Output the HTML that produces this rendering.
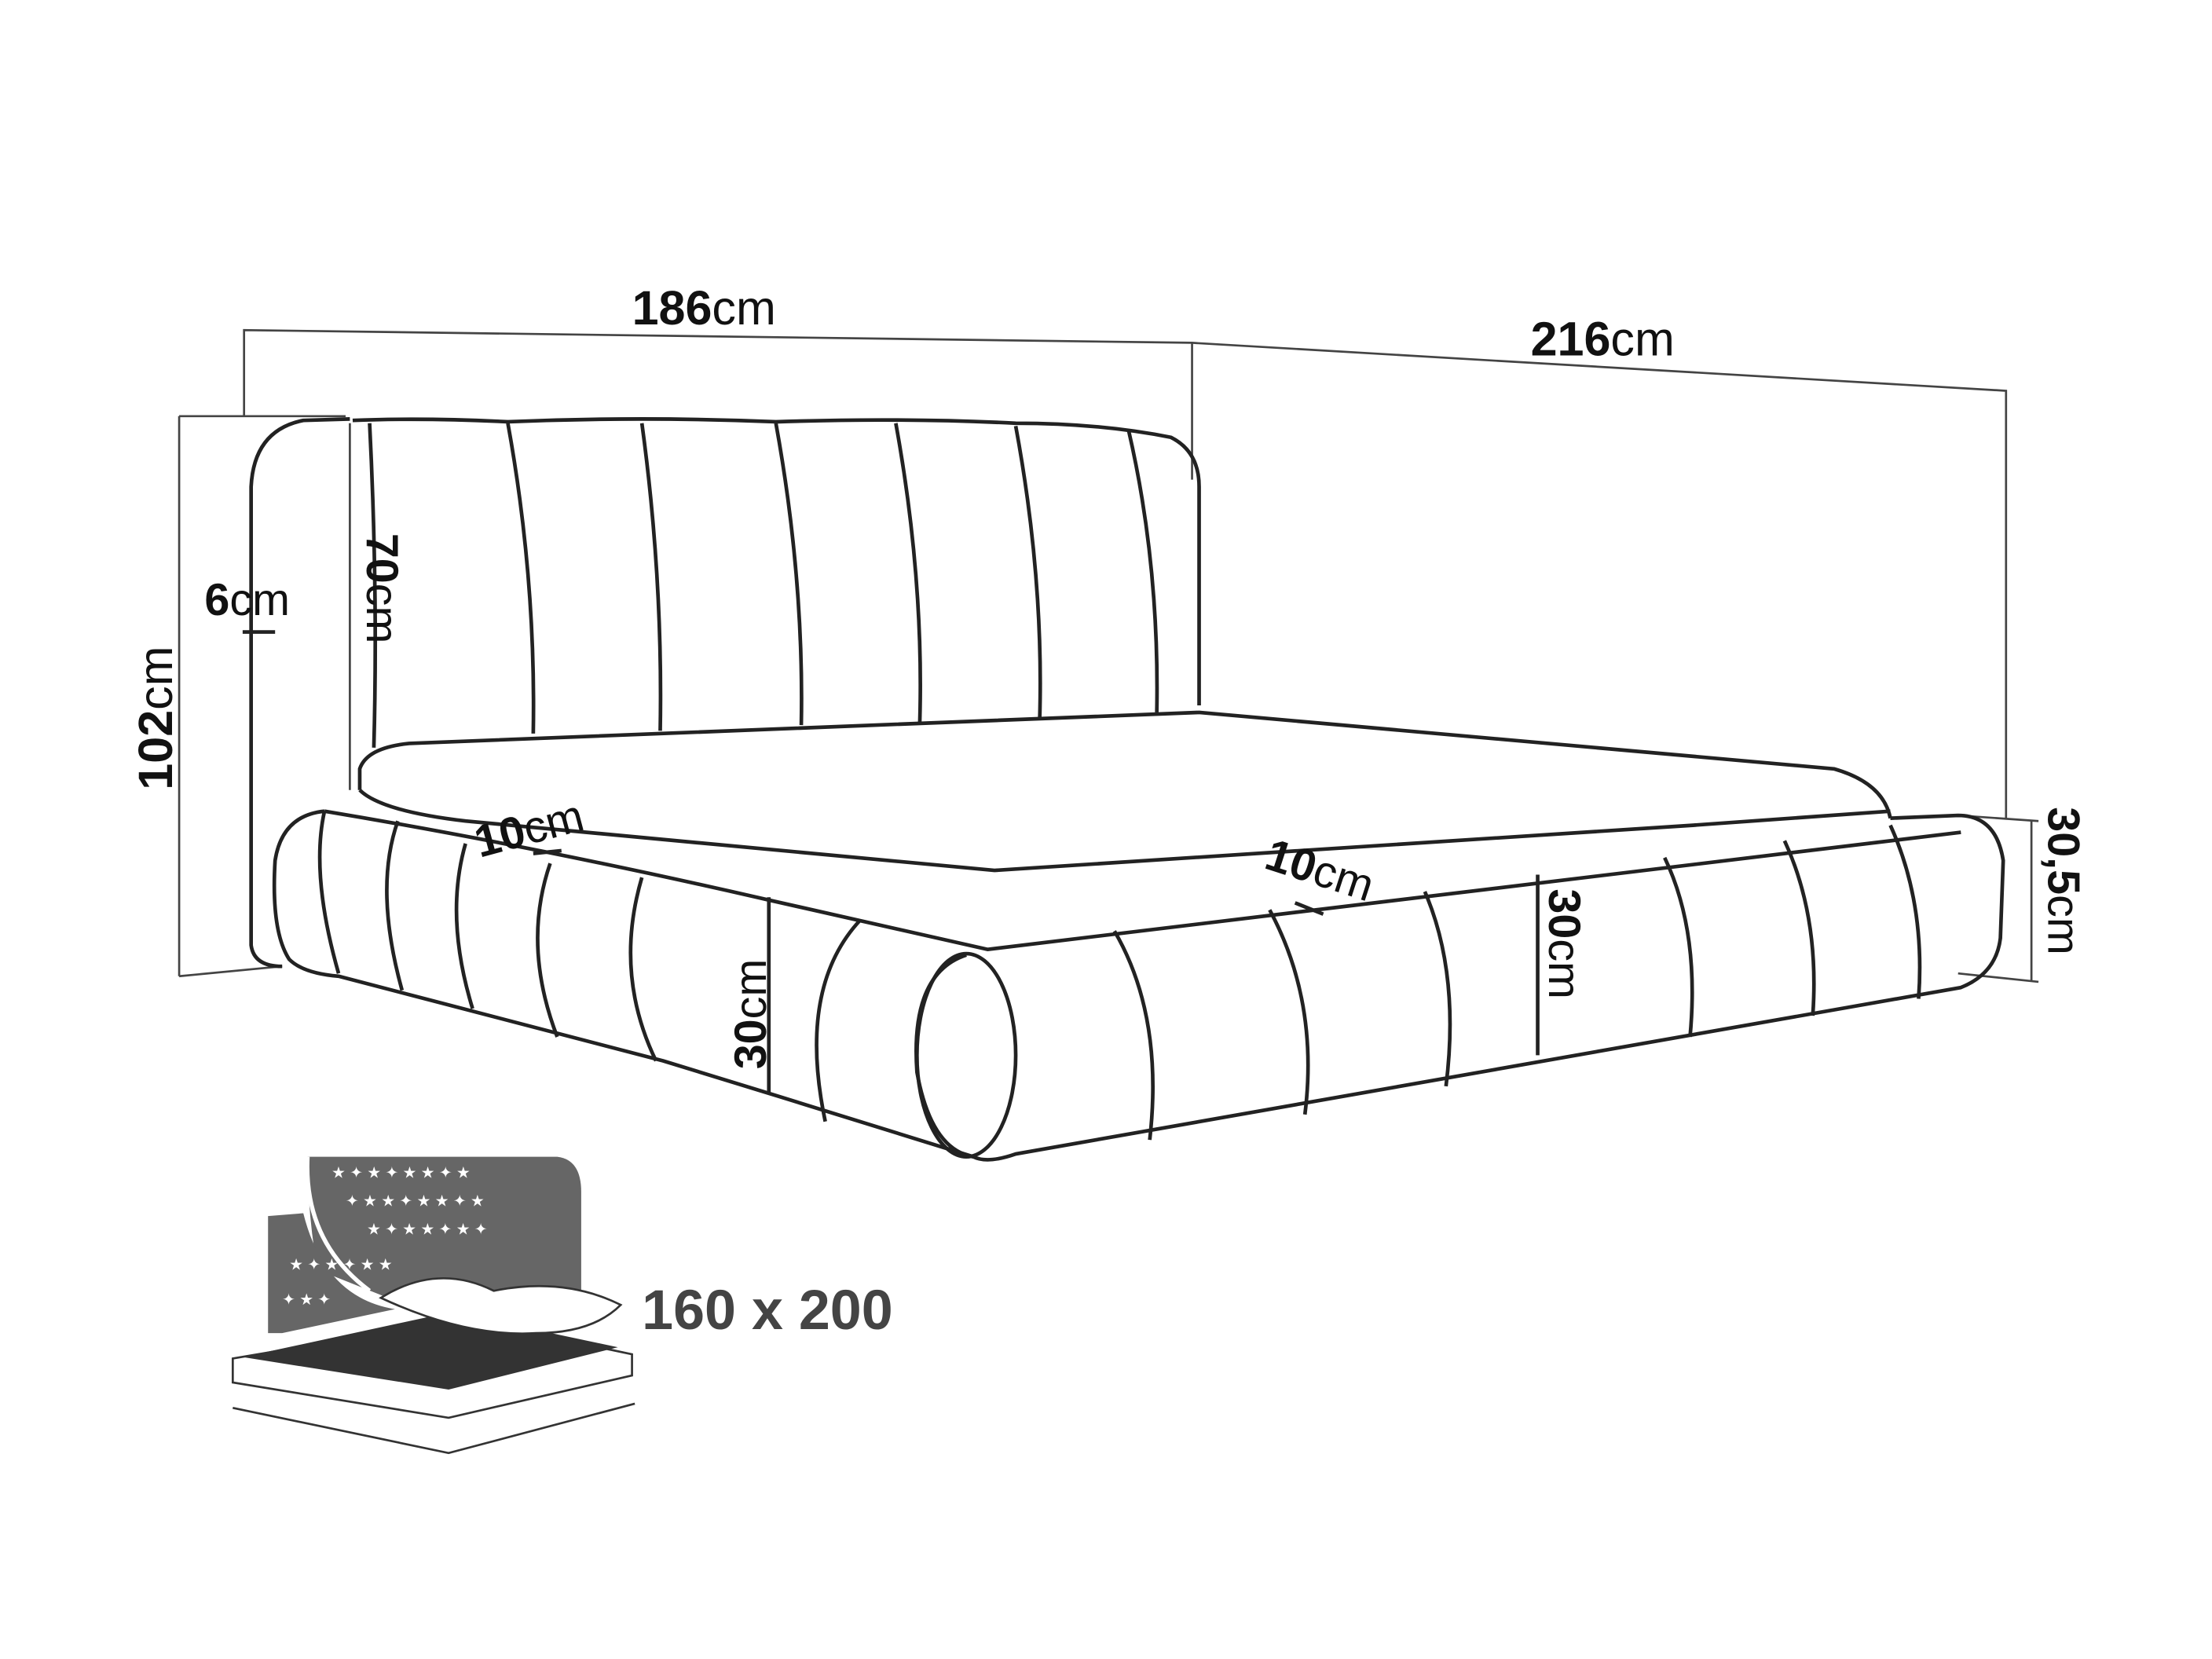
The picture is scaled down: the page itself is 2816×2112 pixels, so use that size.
<!DOCTYPE html>
<html><head><meta charset="utf-8"><style>
html,body{margin:0;padding:0;background:#fff;}
svg{display:block;}
text{font-family:"Liberation Sans",sans-serif;fill:#111;}
.b{font-weight:bold;}
</style></head><body>
<svg width="2816" height="2112" viewBox="0 0 1568 1176" xmlns="http://www.w3.org/2000/svg">
<g fill="none" stroke="#444" stroke-width="1.5">
<polyline points="173,295 173,234 845,243 1422,277 1422,580"/>
<line x1="845" y1="243" x2="845" y2="340"/>
<line x1="127" y1="295" x2="127" y2="692"/>
<line x1="127" y1="295" x2="245" y2="295"/>
<line x1="127" y1="692" x2="200" y2="685"/>
<line x1="1388" y1="578" x2="1445" y2="582"/>
<line x1="1388" y1="690" x2="1445" y2="696"/>
<line x1="1440" y1="582" x2="1440" y2="696"/>
<line x1="248" y1="300" x2="248" y2="560"/>
</g>
<g fill="none" stroke="#222" stroke-width="2.6" stroke-linejoin="round">
<path d="M248,297 L215,298 Q180,305 178,345 L178,670 Q180,685 200,685"/>
<path d="M250,298 Q300,296 360,299 Q455,295 550,299 Q640,296 720,300 Q780,300 830,310 Q850,320 850,345 L850,500"/>
<path d="M255,560 L255,545 Q260,530 290,527 L850,505 L1300,545 Q1335,555 1340,580"/>
<path d="M255,560 Q270,575 330,582 L705,617 L1200,585 L1340,575"/>
<path d="M230,575 Q200,578 195,610 Q192,660 205,680 Q215,690 240,692 L470,752 L545,775 L690,820 Q700,825 720,818 L1390,700 Q1415,690 1418,665 L1420,610 Q1415,578 1388,578 L1340,580"/>
<path d="M230,575 Q380,600 545,638 Q620,655 700,673 L1390,590"/>
<path d="M230,575 Q220,620 240,690"/>
<path d="M282,582 Q265,630 285,702"/>
<path d="M330,598 Q315,650 335,715"/>
<path d="M390,612 Q370,670 395,735"/>
<path d="M455,622 Q435,690 465,752"/>
<path d="M545,636 L545,775"/>
<path d="M610,652 Q565,700 585,795"/>
<path d="M685,677 Q645,690 650,760 Q660,815 690,820"/>
<ellipse cx="685" cy="748" rx="35" ry="72"/>
<path d="M790,660 Q825,720 815,808"/>
<path d="M900,645 Q935,710 925,790"/>
<path d="M1010,632 Q1035,690 1025,770"/>
<path d="M1090,620 L1090,748"/>
<path d="M1180,608 Q1205,660 1198,735"/>
<path d="M1265,596 Q1290,650 1285,720"/>
<path d="M1340,585 Q1365,640 1360,708"/>
<path d="M262,300 Q268,420 265,530"/>
<path d="M360,300 Q380,410 378,520"/>
<path d="M455,300 Q470,410 468,518"/>
<path d="M550,300 Q570,410 568,514"/>
<path d="M635,300 Q655,410 652,512"/>
<path d="M720,302 Q740,410 737,510"/>
<path d="M800,305 Q822,400 820,505"/>
<line x1="172" y1="448" x2="195" y2="448"/>
<line x1="378" y1="605" x2="398" y2="603"/>
<line x1="918" y1="640" x2="938" y2="648"/>
</g>
<text x="448" y="230" font-size="34"><tspan class="b">186</tspan>cm</text>
<text x="1085" y="252" font-size="34"><tspan class="b">216</tspan>cm</text>
<text x="145" y="436" font-size="32"><tspan class="b">6</tspan>cm</text>
<text transform="translate(122,560) rotate(-90)" font-size="34"><tspan class="b">102</tspan>cm</text>
<text transform="translate(260,378) rotate(90)" font-size="32"><tspan class="b">70</tspan>cm</text>
<text transform="translate(340,608) rotate(-15)" font-size="32"><tspan class="b">10</tspan>cm</text>
<text transform="translate(895,615) rotate(18)" font-size="32"><tspan class="b">10</tspan>cm</text>
<text transform="translate(543,758) rotate(-90)" font-size="32"><tspan class="b">30</tspan>cm</text>
<text transform="translate(1098,630) rotate(90)" font-size="32"><tspan class="b">30</tspan>cm</text>
<text transform="translate(1452,572) rotate(90)" font-size="32"><tspan class="b">30,5</tspan>cm</text>
<path d="M218,820 L395,820 Q412,822 412,845 L412,920 L300,930 L225,900 Q218,860 218,820 Z" fill="#666"/>
<path d="M190,862 L215,860 Q230,920 280,928 L200,945 L190,945 Z" fill="#666"/>
<path d="M218,820 Q215,880 262,915" fill="none" stroke="#fff" stroke-width="3"/>
<g font-size="11">
<text x="235" y="835" style="fill:#fff">★ ✦ ★ ✦ ★ ★ ✦ ★</text>
<text x="245" y="855" style="fill:#fff">✦ ★ ★ ✦ ★ ★ ✦ ★</text>
<text x="260" y="875" style="fill:#fff">★ ✦ ★ ★ ✦ ★ ✦</text>
<text x="205" y="900" style="fill:#fff">★ ✦ ★ ✦ ★ ★</text>
<text x="200" y="925" style="fill:#fff">✦ ★ ✦</text>
</g>
<path d="M165,963 L330,935 L448,960 L448,975 L318,1005 L165,980 Z" fill="#fff" stroke="#333" stroke-width="1.5"/>
<path d="M172,962 L320,930 L438,955 L318,985 Z" fill="#333"/>
<path d="M270,920 Q310,895 350,915 Q400,905 440,925 Q420,945 380,945 Q330,948 270,920 Z" fill="#fff" stroke="#333" stroke-width="1.5"/>
<path d="M165,998 L318,1030 L450,995" fill="none" stroke="#333" stroke-width="1.5"/>
<text x="455" y="942" font-size="40" class="b" style="fill:#444">160 x 200</text>
</svg>
</body></html>
